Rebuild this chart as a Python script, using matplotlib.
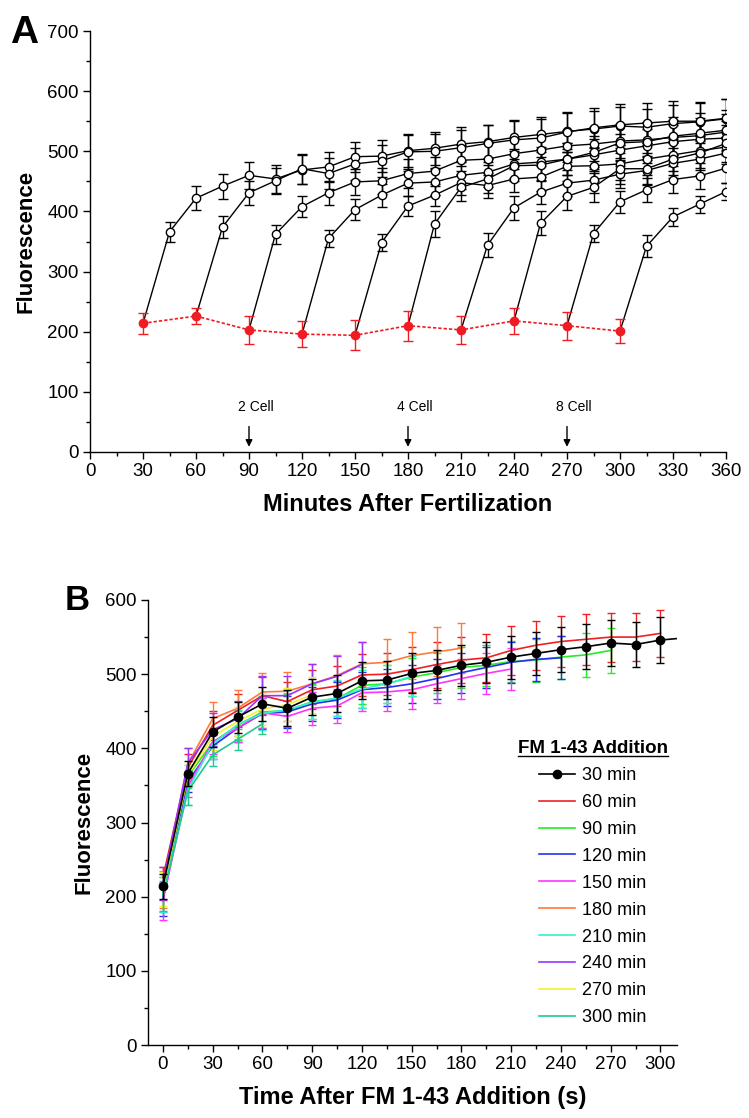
import matplotlib
matplotlib.use("Agg")
import matplotlib.pyplot as plt
from matplotlib.lines import Line2D
from matplotlib.ticker import MultipleLocator
import numpy as np

plt.rcParams['font.family'] = ['Liberation Sans', 'DejaVu Sans']

# FM 1-43 addition times (minutes after fertilization)
starts = [30, 60, 90, 120, 150, 180, 210, 240, 270, 300]
# fluorescence at moment of addition (red baseline)
baseline = [214, 226, 203, 196, 194, 210, 203, 218, 210, 201]
baseline_err = [17, 14, 23, 22, 25, 25, 23, 22, 23, 20]

# fluorescence every 15 min after addition, until 360 min
post = [
    [366, 422, 442, 460, 454, 469, 474, 491, 492, 501, 505, 512, 516, 523, 528, 533, 537, 542, 540, 546, 549, 554],
    [374, 431, 451, 471, 463, 479, 484, 499, 500, 506, 513, 519, 522, 532, 539, 544, 547, 550, 550, 555],
    [362, 408, 431, 449, 451, 463, 467, 485, 487, 496, 502, 509, 512, 517, 519, 523, 526, 532],
    [355, 403, 427, 447, 449, 460, 465, 479, 482, 487, 494, 502, 509, 516, 520, 522],
    [348, 409, 427, 448, 443, 454, 457, 475, 476, 479, 487, 494, 501, 507],
    [379, 440, 454, 476, 477, 487, 498, 514, 516, 525, 530, 535],
    [344, 406, 432, 447, 452, 462, 468, 480, 487, 497],
    [380, 425, 440, 471, 471, 487, 497, 513],
    [363, 416, 436, 453, 459, 472],
    [342, 391, 412, 433],
]
post_err = [
    [17, 20, 21, 23, 24, 24, 25, 25, 26, 27, 27, 28, 28, 29, 29, 30, 30, 31, 30, 31, 32, 33],
    [18, 20, 22, 25, 26, 26, 27, 28, 28, 30, 31, 31, 32, 33, 33, 34, 34, 33, 32, 32],
    [16, 18, 20, 22, 22, 24, 24, 25, 26, 26, 27, 27, 28, 28, 29, 29, 30, 30],
    [14, 17, 19, 21, 22, 23, 24, 24, 25, 26, 27, 27, 28, 28, 29, 29],
    [14, 16, 18, 20, 21, 22, 23, 24, 25, 26, 26, 27, 28, 28],
    [22, 22, 24, 25, 26, 27, 28, 30, 31, 32, 33, 34],
    [20, 20, 20, 22, 22, 23, 24, 25, 26, 27],
    [20, 22, 24, 26, 26, 27, 28, 30],
    [14, 18, 20, 22, 22, 24],
    [18, 15, 14, 14],
]
step = 15

stages = ["2 Cell", "4 Cell", "8 Cell"]
stage_times = [90, 180, 270]

legend_labels = ["%d min" % s for s in starts]
colors = ["#000000", "#f02020", "#22ee22", "#2233ee", "#ff33ff",
          "#ff7a3a", "#33f0d0", "#9933ff", "#f4f030", "#22c890"]
red = "#f01c24"

fig = plt.figure(figsize=(7.49, 11.18), dpi=100)
W, H = 749., 1118.

def axes_px(l, t, r, b):
    return fig.add_axes([l/W, 1-b/H, (r-l)/W, (b-t)/H])

def style(ax):
    for s in ("top", "right"):
        ax.spines[s].set_visible(False)
    for s in ("left", "bottom"):
        ax.spines[s].set_linewidth(1.0)
    ax.tick_params(which="major", direction="out", length=5, width=1, labelsize=13.5, pad=3)
    ax.tick_params(which="minor", direction="out", length=3, width=1)

# ---------------- panel A
axA = axes_px(90, 31, 726, 452)
style(axA)
for t0, b, be, vals, errs in zip(starts, baseline, baseline_err, post, post_err):
    xs = t0+step*np.arange(len(vals)+1)
    axA.plot(xs, [b]+vals, color="k", lw=1.0, zorder=2)
    axA.errorbar(xs[1:], vals, yerr=errs, fmt="o", ms=6, mfc="white", mec="k", mew=1.0,
                 ecolor="k", elinewidth=1.0, capsize=3.3, capthick=1.0, zorder=3)
axA.errorbar(starts, baseline, yerr=baseline_err, fmt="o", ls=(0, (2, 1.2)), color=red,
             lw=1.2, ms=6, mfc=red, mec=red, ecolor=red, elinewidth=1.0, capsize=3.3,
             capthick=1.0, zorder=4)
for lab, t in zip(stages, stage_times):
    axA.annotate("", xy=(t, 4), xytext=(t, 47),
                 arrowprops=dict(arrowstyle="-|>", color="k", lw=1.0, mutation_scale=10))
    axA.annotate(lab, xy=(t, 74), xytext=(-8, 0), textcoords="offset points",
                 ha="left", va="center", fontsize=10)
axA.set_xlim(0, 360)
axA.set_ylim(0, 700)
axA.xaxis.set_major_locator(MultipleLocator(30))
axA.xaxis.set_minor_locator(MultipleLocator(15))
axA.yaxis.set_major_locator(MultipleLocator(100))
axA.yaxis.set_minor_locator(MultipleLocator(50))
axA.set_xlabel("Minutes After Fertilization", fontsize=17, fontweight="bold", labelpad=9)
axA.set_ylabel("Fluorescence", fontsize=16, fontweight="bold", labelpad=8)
fig.text(10/W, 1-43/H, "A", fontsize=28, fontweight="bold", ha="left", va="baseline")

# ---------------- panel B
axB = axes_px(148, 600, 677, 1045)
style(axB)
handles = []
order = list(range(1, len(starts)))+[0]
for i in order:
    vals = [baseline[i]]+post[i]
    errs = [baseline_err[i]]+post_err[i]
    xs = step*np.arange(len(vals))
    if i == 0:
        axB.errorbar(xs, vals, yerr=errs, fmt="-o", color="k", lw=1.2, ms=6,
                     elinewidth=1.0, capsize=2.6, capthick=1.0, zorder=5)
    else:
        axB.errorbar(xs, vals, yerr=errs, fmt="-", color=colors[i], lw=1.2,
                     elinewidth=1.0, capsize=2.6, capthick=1.0, zorder=3)
for i, lab in enumerate(legend_labels):
    if i == 0:
        handles.append(Line2D([], [], color="k", lw=1.2, marker="o", ms=6))
    else:
        handles.append(Line2D([], [], color=colors[i], lw=1.2))
axB.set_xlim(-9, 310)
axB.set_ylim(0, 600)
axB.xaxis.set_major_locator(MultipleLocator(30))
axB.xaxis.set_minor_locator(MultipleLocator(15))
axB.yaxis.set_major_locator(MultipleLocator(100))
axB.yaxis.set_minor_locator(MultipleLocator(50))
axB.set_xlabel("Time After FM 1-43 Addition (s)", fontsize=17, fontweight="bold", labelpad=9)
axB.set_ylabel("Fluorescence", fontsize=16, fontweight="bold", labelpad=8)
fig.text(65/W, 1-610/H, "B", fontsize=25, fontweight="bold", ha="left", va="baseline")

leg = axB.legend(handles, legend_labels, loc="upper center",
                 bbox_to_anchor=(593/W, 1-731/H), bbox_transform=fig.transFigure,
                 frameon=False, fontsize=13, handlelength=2.0, handletextpad=0.4,
                 labelspacing=0.55, borderpad=0, title="FM 1-43 Addition",
                 title_fontproperties={"weight": "bold", "size": 13.5})
fig.canvas.draw()
bb = leg.get_title().get_window_extent()
fig.add_artist(Line2D([bb.x0/W, bb.x1/W], [(bb.y0+1)/H, (bb.y0+1)/H],
                      color="k", lw=1.0, transform=fig.transFigure))

fig.savefig("out.png", dpi=100)
